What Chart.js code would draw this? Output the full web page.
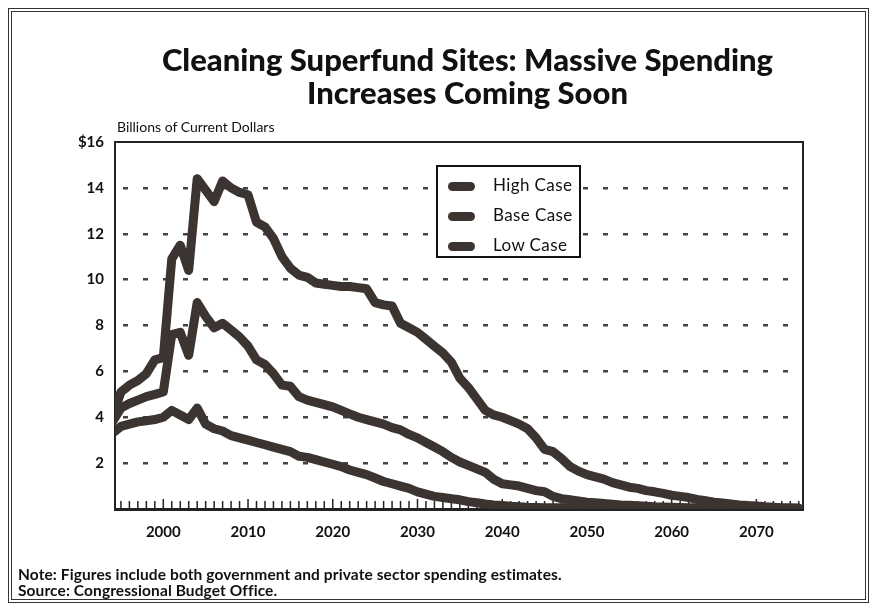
<!DOCTYPE html>
<html>
<head>
<meta charset="utf-8">
<script src="https://cdn.jsdelivr.net/npm/chart.js@4.4.1/dist/chart.umd.min.js"></script>
<style>
  body { margin: 0; background: #fff; }
  #wrap { position: relative; width: 877px; height: 610px; font-family: Lato, "Open Sans", sans-serif; color: #111; }
  #frame { position: absolute; left: 8px; top: 8px; width: 861px; height: 595px; border: 4px double #333; box-sizing: border-box; }
  #title { position: absolute; left: 0; width: 935px; top: 43px; text-align: center; font-size: 31px; font-weight: 900; line-height: 33px; }
  #unit { position: absolute; left: 117px; top: 118px; font-size: 14px; }
  #legend { position: absolute; left: 436px; top: 165px; width: 145px; height: 93px; border: 2px solid #111; box-sizing: border-box; background: #fff; }
  .row { position: absolute; left: 10px; height: 20px; font-size: 17px; line-height: 20px; letter-spacing: 0.4px; }
  .sw { display: inline-block; width: 27px; height: 9px; border-radius: 5px; background: #3b3431; vertical-align: middle; margin-right: 18px; }
  #note { position: absolute; left: 18px; top: 566px; font-size: 15.5px; line-height: 16px; font-weight: 700; letter-spacing: 0.1px; }
</style>
</head>
<body>
<div id="wrap">
  <canvas id="myChart" width="877" height="610"></canvas>
  <div id="frame"></div>
  <div id="title">Cleaning Superfund Sites: Massive Spending<br>Increases Coming Soon</div>
  <div id="unit">Billions of Current Dollars</div>
  <div id="legend">
    <div class="row" style="top:8px"><span class="sw"></span>High Case</div>
    <div class="row" style="top:38px"><span class="sw"></span>Base Case</div>
    <div class="row" style="top:68px"><span class="sw"></span>Low Case</div>
  </div>
  <div id="note">Note: Figures include both government and private sector spending estimates.<br>Source: Congressional Budget Office.</div>
</div>
<script>
// años 1994-2075
const years = [
  1994, 1995, 1996, 1997, 1998, 1999, 2000, 2001, 2002, 2003,
  2004, 2005, 2006, 2007, 2008, 2009, 2010, 2011, 2012, 2013,
  2014, 2015, 2016, 2017, 2018, 2019, 2020, 2021, 2022, 2023,
  2024, 2025, 2026, 2027, 2028, 2029, 2030, 2031, 2032, 2033,
  2034, 2035, 2036, 2037, 2038, 2039, 2040, 2041, 2042, 2043,
  2044, 2045, 2046, 2047, 2048, 2049, 2050, 2051, 2052, 2053,
  2054, 2055, 2056, 2057, 2058, 2059, 2060, 2061, 2062, 2063,
  2064, 2065, 2066, 2067, 2068, 2069, 2070, 2071, 2072, 2073,
  2074, 2075
];
const decadeLabels = [2000, 2010, 2020, 2030, 2040, 2050, 2060, 2070];
const yTicks = [0, 2, 4, 6, 8, 10, 12, 14, 16];

const highCase = [
  4.0, 5.1, 5.4, 5.6, 5.9, 6.5, 6.6, 10.9, 11.5, 10.4,
  14.4, 13.9, 13.4, 14.3, 14.0, 13.8, 13.7, 12.5, 12.3, 11.8,
  11.0, 10.5, 10.2, 10.1, 9.85, 9.8, 9.75, 9.7, 9.7, 9.65,
  9.6, 9.0, 8.9, 8.85, 8.1, 7.9, 7.7, 7.4, 7.1, 6.8,
  6.4, 5.7, 5.3, 4.8, 4.3, 4.1, 4.0, 3.85, 3.7, 3.5,
  3.1, 2.6, 2.5, 2.2, 1.85, 1.65, 1.5, 1.4, 1.3, 1.15,
  1.05, 0.95, 0.9, 0.8, 0.75, 0.68, 0.6, 0.55, 0.5, 0.42,
  0.36, 0.3, 0.26, 0.22, 0.18, 0.15, 0.13, 0.1, 0.08, 0.06,
  0.05, 0.04
];
const baseCase = [
  3.8, 4.4, 4.6, 4.75, 4.9, 5.0, 5.1, 7.6, 7.7, 6.7,
  9.0, 8.4, 7.9, 8.1, 7.8, 7.5, 7.1, 6.5, 6.3, 5.9,
  5.4, 5.35, 4.9, 4.75, 4.65, 4.55, 4.45, 4.3, 4.15, 4.0,
  3.9, 3.8, 3.7, 3.55, 3.45, 3.25, 3.1, 2.9, 2.7, 2.5,
  2.25, 2.05, 1.9, 1.75, 1.6, 1.3, 1.1, 1.05, 1.0, 0.9,
  0.8, 0.75, 0.55, 0.45, 0.4, 0.35, 0.3, 0.27, 0.24, 0.21,
  0.18, 0.16, 0.14, 0.12, 0.1, 0.09, 0.08, 0.07, 0.06, 0.05,
  0.05, 0.04, 0.04, 0.03, 0.03, 0.03, 0.02, 0.02, 0.02, 0.02,
  0.02, 0.02
];
const lowCase = [
  3.3, 3.6, 3.7, 3.8, 3.85, 3.9, 4.0, 4.3, 4.1, 3.9,
  4.4, 3.7, 3.5, 3.4, 3.2, 3.1, 3.0, 2.9, 2.8, 2.7,
  2.6, 2.5, 2.3, 2.25, 2.15, 2.05, 1.95, 1.85, 1.7, 1.6,
  1.5, 1.35, 1.2, 1.1, 1.0, 0.9, 0.75, 0.65, 0.55, 0.5,
  0.45, 0.4, 0.32, 0.27, 0.22, 0.18, 0.15, 0.12, 0.1, 0.08,
  0.07, 0.06, 0.05, 0.05, 0.04, 0.04, 0.03, 0.03, 0.03, 0.02,
  0.02, 0.02, 0.02, 0.02, 0.02, 0.02, 0.02, 0.02, 0.02, 0.02,
  0.01, 0.01, 0.01, 0.01, 0.01, 0.01, 0.01, 0.01, 0.01, 0.01,
  0.01, 0.01
];

const lineColor = '#3b3431';

function puntos(serie) {
  return years.map((yr, i) => ({ x: yr, y: serie[i] }));
}

function serieLinea(label, serie) {
  return {
    label: label,
    data: puntos(serie),
    borderColor: lineColor,
    backgroundColor: lineColor,
    borderWidth: 9,
    borderJoinStyle: 'round',
    borderCapStyle: 'round',
    pointRadius: 0,
    tension: 0
  };
}

// marco del área, eje izquierdo y marcas anuales del eje x
const marcoPlugin = {
  id: 'marco',
  beforeDatasetsDraw(chart) {
    const { ctx, chartArea, scales } = chart;
    ctx.save();
    ctx.strokeStyle = '#222';
    ctx.lineWidth = 2;
    ctx.beginPath();
    ctx.moveTo(chartArea.left, chartArea.bottom);
    ctx.lineTo(chartArea.left, chartArea.top);
    ctx.lineTo(chartArea.right, chartArea.top);
    ctx.lineTo(chartArea.right, chartArea.bottom);
    ctx.stroke();
    ctx.lineWidth = 1.5;
    years.forEach(yr => {
      const x = scales.x.getPixelForValue(yr);
      if (x < chartArea.left + 2 || x > chartArea.right - 2) return;
      const h = yr % 10 === 0 ? 10 : 8;
      ctx.beginPath();
      ctx.moveTo(x, chartArea.bottom);
      ctx.lineTo(x, chartArea.bottom - h);
      ctx.stroke();
    });
    ctx.restore();
  }
};

const ctx = document.getElementById('myChart').getContext('2d');
const myChart = new Chart(ctx, {
  type: 'line',
  data: {
    datasets: [
      serieLinea('High Case', highCase),
      serieLinea('Base Case', baseCase),
      serieLinea('Low Case', lowCase)
    ]
  },
  options: {
    responsive: false,
    animation: false,
    layout: { padding: { left: 0, top: 142, right: 74, bottom: 0 } },
    plugins: {
      legend: { display: false },
      title: { display: false },
      tooltip: { enabled: false }
    },
    scales: {
      x: {
        type: 'linear',
        min: 1994.3,
        max: 2075.5,
        afterFit: s => { s.height = 101; },
        afterBuildTicks: s => { s.ticks = decadeLabels.map(v => ({ value: v })); },
        grid: { display: false, drawTicks: false },
        border: { display: true, color: '#222', width: 3 },
        ticks: {
          padding: 14,
          color: '#111',
          font: { family: 'Lato', size: 15, weight: 'bold' },
          callback: v => String(v)
        }
      },
      y: {
        min: 0,
        max: 16,
        afterFit: s => { s.width = 115; },
        afterBuildTicks: s => { s.ticks = yTicks.map(v => ({ value: v })); },
        // en v4 el guion de las líneas del grid va en border.dash
        border: { display: false, dash: [5, 15], dashOffset: -8 },
        grid: {
          drawTicks: false,
          lineWidth: 2.5,
          color: c => (c.tick && c.tick.value > 0 && c.tick.value < 16) ? '#444' : 'rgba(0,0,0,0)'
        },
        ticks: {
          padding: 11,
          color: '#111',
          font: { family: 'Lato', size: 15, weight: 'bold' },
          callback: v => v === 0 ? '' : (v === 16 ? '$16' : String(v))
        }
      }
    }
  },
  plugins: [marcoPlugin]
});
</script>
</body>
</html>
